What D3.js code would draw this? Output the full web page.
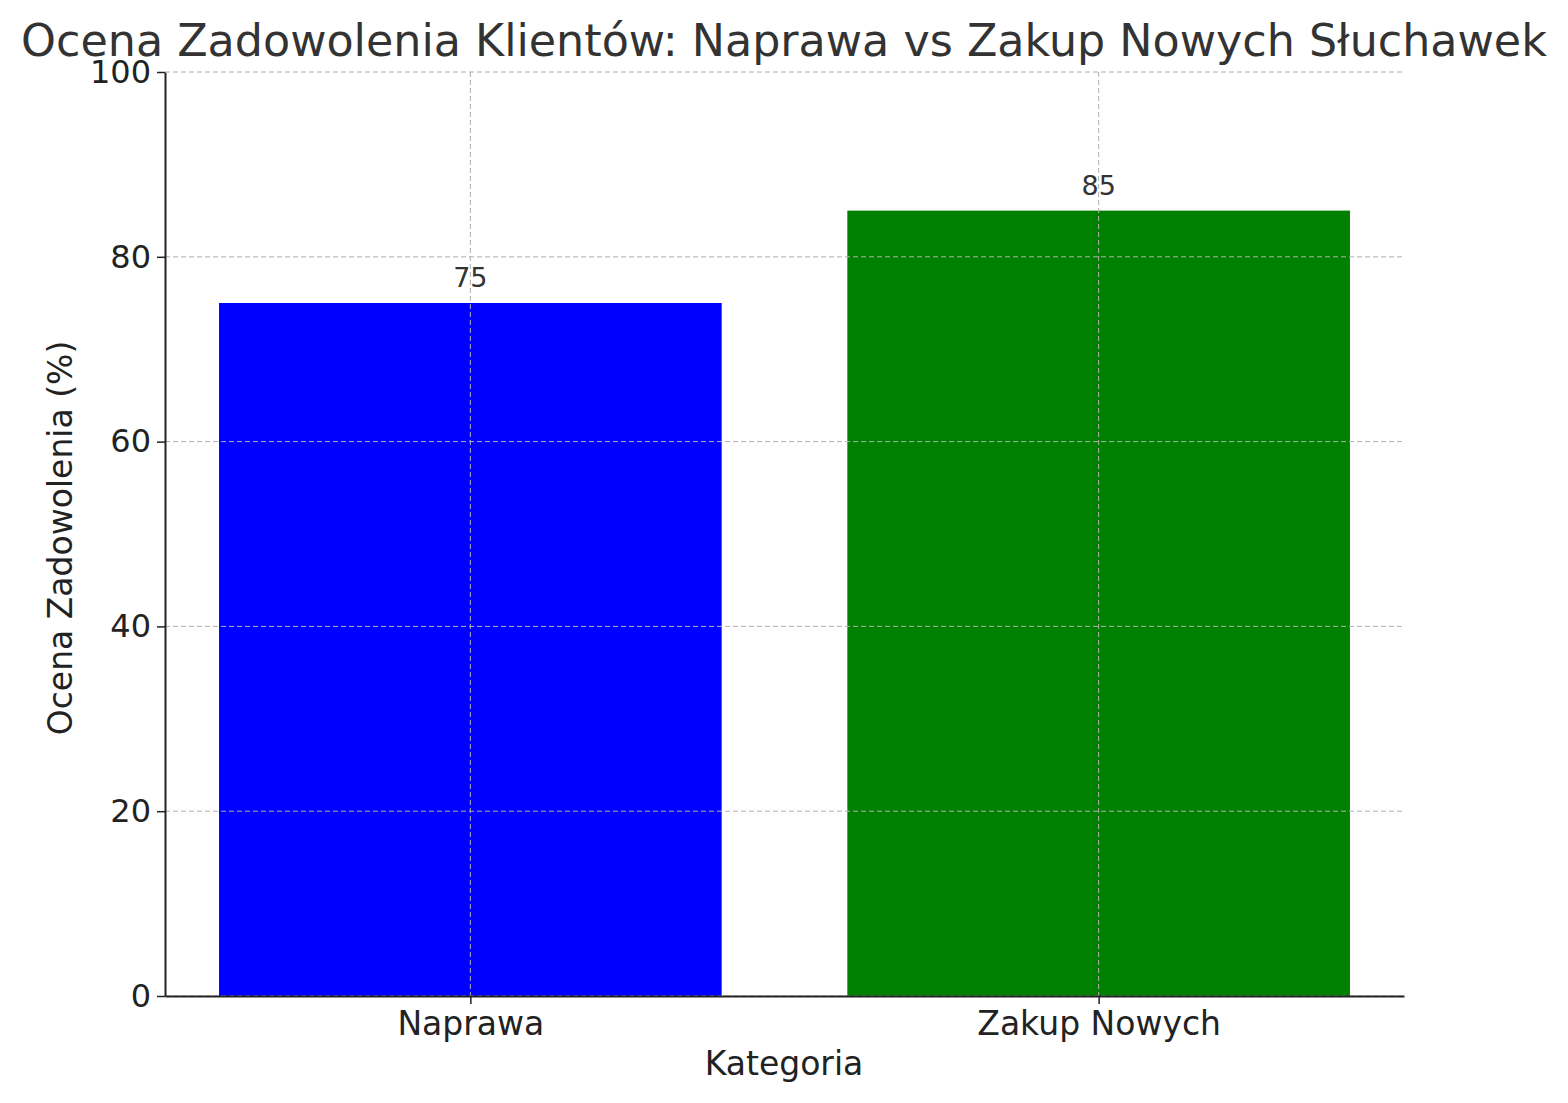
<!DOCTYPE html>
<html><head><meta charset="utf-8">
<script src="https://cdn.jsdelivr.net/npm/d3@7/dist/d3.min.js"></script>
<style>body{margin:0;background:#fff}text{font-family:"DejaVu Sans",sans-serif}</style>
</head><body><svg id="c" width="1568" height="1103"></svg>
<script>
const categories = ["Naprawa", "Zakup Nowych"];
const values = [75, 85];
const colors = ["#0000ff", "#008000"];
const yTicks = [0, 20, 40, 60, 80, 100];

const svg = d3.select("#c");
const L = 165, R = 1404, T = 72, B = 996;
const x = d3.scaleLinear().domain([-0.486, 1.486]).range([L, R]);
const y = d3.scaleLinear().domain([0, 100]).range([B, T]);
const bw = x(0.4) - x(-0.4);

const g = svg.append("g");
yTicks.forEach(t => g.append("line").attr("x1", L).attr("x2", R).attr("y1", y(t)).attr("y2", y(t))
  .attr("stroke", "#b0b0b0").attr("stroke-width", 1).attr("stroke-dasharray", "5,3"));
categories.forEach((c, i) => g.append("line").attr("x1", x(i)).attr("x2", x(i)).attr("y1", T).attr("y2", B)
  .attr("stroke", "#b0b0b0").attr("stroke-width", 1).attr("stroke-dasharray", "5,3"));

svg.append("g").selectAll("rect").data(values).join("rect")
  .attr("x", (d, i) => x(i) - bw / 2).attr("width", bw)
  .attr("y", d => y(d)).attr("height", d => B - y(d))
  .attr("fill", (d, i) => colors[i]);
g.raise();

svg.append("g").selectAll("text").data(values).join("text")
  .attr("x", (d, i) => x(i)).attr("y", d => y(d) - 16)
  .attr("text-anchor", "middle").attr("font-size", 27).attr("fill", "#333").text(d => d);

const ya = svg.append("g").attr("transform", `translate(${L},0)`)
  .call(d3.axisLeft(y).tickValues(yTicks).tickSize(8).tickSizeOuter(0).tickPadding(6));
ya.select(".domain").attr("stroke", "#222").attr("stroke-width", 2);
ya.selectAll("text").attr("font-size", 32).attr("fill", "#222");
ya.selectAll(".tick line").attr("stroke", "#222").attr("stroke-width", 1.5);

const xa = svg.append("g").attr("transform", `translate(0,${B})`)
  .call(d3.axisBottom(x).tickValues([0, 1]).tickFormat(i => categories[i]).tickSize(8).tickSizeOuter(0).tickPadding(8));
xa.select(".domain").attr("stroke", "#222").attr("stroke-width", 2);
xa.selectAll("text").attr("font-size", 33).attr("fill", "#222");
xa.selectAll(".tick line").attr("stroke", "#222").attr("stroke-width", 1.5);

svg.append("text").attr("x", 784).attr("y", 1075).attr("text-anchor", "middle")
  .attr("font-size", 33).attr("fill", "#222").text("Kategoria");
svg.append("text").attr("transform", `translate(72,${(T + B) / 2 + 4}) rotate(-90)`).attr("text-anchor", "middle")
  .attr("font-size", 33).attr("fill", "#222").text("Ocena Zadowolenia (%)");
svg.append("text").attr("x", 784).attr("y", 56).attr("text-anchor", "middle")
  .attr("font-size", 44.4).attr("fill", "#333").text("Ocena Zadowolenia Klientów: Naprawa vs Zakup Nowych Słuchawek");
</script></body></html>
